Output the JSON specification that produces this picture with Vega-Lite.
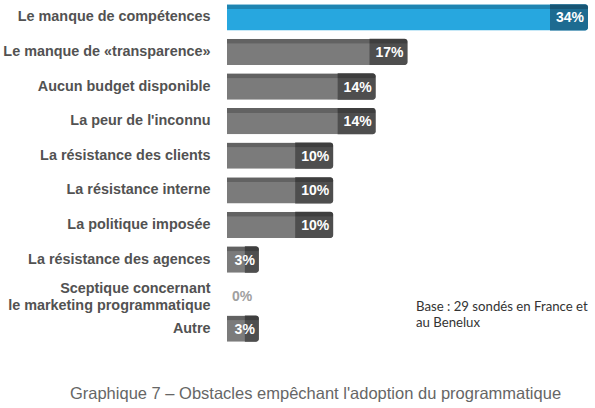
{
  "$schema": "https://vega.github.io/schema/vega-lite/v6.json",
  "width": 361,
  "height": 346,
  "autosize": "none",
  "padding": {"left": 227, "top": 0, "right": 7, "bottom": 62},
  "background": "white",
  "config": {"view": {"stroke": null}, "font": "Liberation Sans"},
  "title": {
    "text": "Graphique 7 – Obstacles empêchant l'adoption du programmatique",
    "orient": "bottom",
    "anchor": "middle",
    "dx": -92,
    "offset": 40,
    "fontSize": 16.5,
    "fontWeight": "normal",
    "color": "#666666",
    "font": "Liberation Sans"
  },
  "data": {
    "values": [
      {"obstacle": "Le manque de compétences", "share": 0.34},
      {"obstacle": "Le manque de «transparence»", "share": 0.17},
      {"obstacle": "Aucun budget disponible", "share": 0.14},
      {"obstacle": "La peur de l'inconnu", "share": 0.14},
      {"obstacle": "La résistance des clients", "share": 0.10},
      {"obstacle": "La résistance interne", "share": 0.10},
      {"obstacle": "La politique imposée", "share": 0.10},
      {"obstacle": "La résistance des agences", "share": 0.03},
      {"obstacle": "Sceptique concernant le marketing programmatique", "share": 0.0},
      {"obstacle": "Autre", "share": 0.03}
    ]
  },
  "encoding": {
    "y": {
      "field": "obstacle",
      "type": "nominal",
      "scale": {
        "domain": [
          "Le manque de compétences",
          "Le manque de «transparence»",
          "Aucun budget disponible",
          "La peur de l'inconnu",
          "La résistance des clients",
          "La résistance interne",
          "La politique imposée",
          "La résistance des agences",
          "Sceptique concernant le marketing programmatique",
          "Autre"
        ],
        "paddingInner": 0.24,
        "paddingOuter": 0.12
      },
      "axis": {
        "title": null,
        "ticks": false,
        "domain": false,
        "labelPadding": 17,
        "labelFont": "Liberation Sans",
        "labelFontSize": 14.4,
        "labelFontWeight": "bold",
        "labelColor": "#525252",
        "labelLimit": 300,
        "labelLineHeight": 17,
        "labelOffset": {"condition": {"test": "datum.value == 'Sceptique concernant le marketing programmatique'", "value": -5}, "value": 0},
        "labelExpr": "datum.value == 'Sceptique concernant le marketing programmatique' ? ['Sceptique concernant', 'le marketing programmatique'] : datum.label"
      }
    }
  },
  "layer": [
    {
      "transform": [{"filter": "datum.share > 0"}],
      "mark": {"type": "bar", "cornerRadiusTopRight": 3, "cornerRadiusBottomRight": 3},
      "encoding": {
        "x": {"field": "share", "type": "quantitative", "scale": {"domain": [0, 0.34], "nice": false}, "axis": null},
        "color": {
          "condition": {"test": "datum.obstacle == 'Le manque de compétences'", "value": "#27a7df"},
          "value": "#7b7b7b"
        }
      }
    },
    {
      "transform": [{"filter": "datum.share >= 0.05"}],
      "mark": {"type": "bar", "x2Offset": -38, "cornerRadiusTopRight": 3, "cornerRadiusBottomRight": 3},
      "encoding": {
        "x": {"field": "share", "type": "quantitative"},
        "x2": {"field": "share"},
        "color": {
          "condition": {"test": "datum.obstacle == 'Le manque de compétences'", "value": "#1d6b91"},
          "value": "#4e4e4e"
        }
      }
    },
    {
      "transform": [{"filter": "datum.share > 0 && datum.share < 0.05"}],
      "mark": {"type": "bar", "x2Offset": -14, "cornerRadiusTopRight": 3, "cornerRadiusBottomRight": 3, "color": "#4e4e4e"},
      "encoding": {
        "x": {"field": "share", "type": "quantitative"},
        "x2": {"field": "share"}
      }
    },
    {
      "transform": [{"filter": "datum.share > 0"}],
      "mark": {"type": "bar", "height": 5, "yOffset": -10.6, "color": "#000000", "opacity": 0.2, "cornerRadiusTopRight": 3},
      "encoding": {
        "x": {"field": "share", "type": "quantitative"}
      }
    },
    {
      "transform": [{"filter": "datum.share > 0"}],
      "mark": {"type": "text", "align": "right", "baseline": "middle", "dx": -4, "dy": 1, "font": "Liberation Sans", "fontSize": 14, "fontWeight": "bold", "color": "#ffffff"},
      "encoding": {
        "x": {"field": "share", "type": "quantitative"},
        "text": {"field": "share", "type": "quantitative", "format": ".0%"}
      }
    },
    {
      "transform": [{"filter": "datum.share == 0"}],
      "mark": {"type": "text", "align": "left", "baseline": "middle", "dx": 5, "dy": 3, "font": "Liberation Sans", "fontSize": 14, "fontWeight": "bold", "color": "#a0a0a0"},
      "encoding": {
        "x": {"field": "share", "type": "quantitative"},
        "text": {"field": "share", "type": "quantitative", "format": ".0%"}
      }
    },
    {
      "data": {"values": [{"note": "base"}]},
      "mark": {"type": "text", "align": "left", "baseline": "alphabetic", "dy": -18, "lineHeight": 16, "font": "Lato", "fontSize": 13.2, "color": "#333333", "text": ["Base : 29 sondés en France et", "au Benelux"]},
      "encoding": {
        "x": {"datum": 0.178, "type": "quantitative"},
        "y": {"datum": "Autre", "type": "nominal"}
      }
    }
  ]
}
